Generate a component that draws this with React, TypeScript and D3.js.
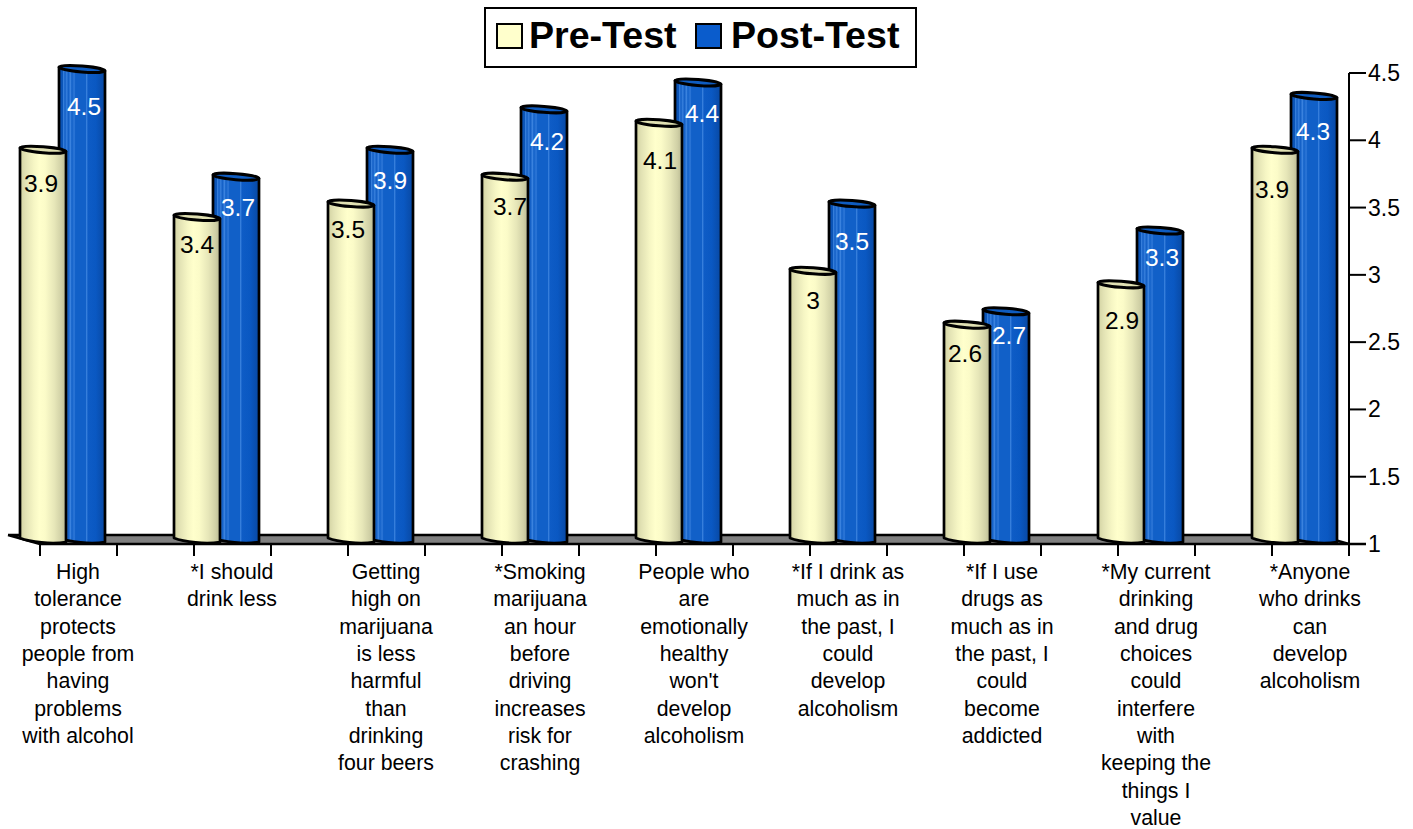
import React from "react";
import * as d3 from "d3";

const categories = [
  ["High", "tolerance", "protects", "people from", "having", "problems", "with alcohol"],
  ["*I should", "drink less"],
  ["Getting", "high on", "marijuana", "is less", "harmful", "than", "drinking", "four beers"],
  ["*Smoking", "marijuana", "an hour", "before", "driving", "increases", "risk for", "crashing"],
  ["People who", "are", "emotionally", "healthy", "won't", "develop", "alcoholism"],
  ["*If I drink as", "much as in", "the past, I", "could", "develop", "alcoholism"],
  ["*If I use", "drugs as", "much as in", "the past, I", "could", "become", "addicted"],
  ["*My current", "drinking", "and drug", "choices", "could", "interfere", "with", "keeping the", "things I", "value"],
  ["*Anyone", "who drinks", "can", "develop", "alcoholism"],
];
const preTest = [3.9, 3.4, 3.5, 3.7, 4.1, 3, 2.6, 2.9, 3.9];
const postTest = [4.5, 3.7, 3.9, 4.2, 4.4, 3.5, 2.7, 3.3, 4.3];
const yTicks = [1, 1.5, 2, 2.5, 3, 3.5, 4, 4.5];

// Hand-placed value label nudges, relative to each category centre and value level.
const preLabelDx = [-37, -35, -38, -30, -34, -35, -37, -34, -38];
const preLabelDy = [38, 32, 30, 34, 42, 34, 33, 41, 44];
const postLabelDx = [6, 6, 4, 7, 8, 4, 7, 6, 3];
const postLabelDy = [42, 35, 35, 37, 36, 42, 29, 32, 40];

// Colour stops across the width of a cylinder: [offset, colour].
const preStops: [number, string][] = [
  [0, "#d2d2a2"], [0.12, "#e2e2b4"], [0.3, "#f6f6c4"], [0.42, "#ffffcc"], [0.55, "#fbfbc8"],
  [0.75, "#e6e6b8"], [0.9, "#d0d0a6"], [1, "#b8b892"],
];
const postStops: [number, string][] = [
  [0, "#0a4fae"], [0.08, "#0b55b8"], [0.1, "#3a82de"], [0.13, "#0f5cc4"], [0.17, "#3a82de"], [0.2, "#0f5cc4"],
  [0.25, "#3a82de"], [0.28, "#1160c8"], [0.33, "#2f78d8"], [0.36, "#1160c8"], [0.58, "#1160c8"], [0.6, "#3a82de"],
  [0.63, "#0e5cc6"], [0.8, "#0a58c2"], [1, "#0848a2"],
];

const FONT = "Liberation Sans, Arial, sans-serif";
const y = d3.scaleLinear().domain([1, 4.5]).range([544, 73]);
const x = d3.scaleBand<number>().domain(d3.range(categories.length)).range([1, 1387]).padding(0);
const tickXs = d3.range(0, 18).map((i) => 40 + i * 77);

function Cylinder({ cx, value, fill, rim }: { cx: number; value: number; fill: string; rim: string }) {
  const w = 46;
  const left = cx - w / 2;
  const right = cx + w / 2;
  const top = y(value) - 4;
  const tilt = 1.9;
  const path = d3.path();
  path.moveTo(left, top - tilt);
  path.lineTo(left, 538);
  path.bezierCurveTo(left + 10, 542, right - 14, 544.5, right, 542);
  path.lineTo(right, top + tilt);
  path.closePath();
  return (
    <g>
      <path d={path.toString()} fill={fill} stroke="#000" strokeWidth={2.7} strokeLinejoin="round" />
      <ellipse
        cx={cx}
        cy={top}
        rx={w / 2}
        ry={3}
        transform={`rotate(4.5 ${cx} ${top})`}
        fill={rim}
        stroke="#000"
        strokeWidth={3}
      />
    </g>
  );
}

export default function App() {
  const centers = categories.map((_, i) => (x(i) as number) + x.bandwidth() / 2);
  return (
    <svg
      width={1413}
      height={829}
      style={{ position: "absolute", left: 0, top: 0, background: "#fff", fontFamily: FONT }}
    >
      <defs>
        <linearGradient id="preFill" x1="0" x2="1" y1="0" y2="0">
          {preStops.map(([o, c]) => <stop key={o} offset={o} stopColor={c} />)}
        </linearGradient>
        <linearGradient id="postFill" x1="0" x2="1" y1="0" y2="0">
          {postStops.map(([o, c]) => <stop key={o} offset={o} stopColor={c} />)}
        </linearGradient>
      </defs>

      {/* legend */}
      <rect x={485} y={8} width={431} height={59} fill="#fff" stroke="#000" strokeWidth={2} />
      <rect x={497} y={24} width={25} height={24} fill="#ffffcc" stroke="#000" strokeWidth={2} />
      <text x={529} y={48} fontSize={37.6} fontWeight="bold">Pre-Test</text>
      <rect x={696} y={24} width={25} height={24} fill="#0a5ccc" stroke="#000" strokeWidth={2} />
      <text x={731} y={48} fontSize={37.6} fontWeight="bold">Post-Test</text>

      {/* floor of the plot */}
      <path d="M8,535 L1317,535 L1349,544 L40,544 Z" fill="#808080" />
      <path d="M8,535 L1317,535 L1349,544 M8,535 L40,544" stroke="#000" strokeWidth={2.4} fill="none" />

      {/* right-hand value axis */}
      <line x1={1349} x2={1349} y1={y(4.5)} y2={y(1)} stroke="#000" strokeWidth={2} />
      {yTicks.map((t) => (
        <g key={t}>
          <line x1={1349} x2={1366} y1={y(t)} y2={y(t)} stroke="#000" strokeWidth={2} />
          <text x={1368} y={y(t) + 8} fontSize={23}>{t}</text>
        </g>
      ))}

      {/* cylinders: post-test sits behind the pre-test column of its group */}
      {categories.map((_, i) => (
        <g key={i}>
          <Cylinder cx={centers[i] + 4} value={postTest[i]} fill="url(#postFill)" rim="#0f5cc0" />
          <Cylinder cx={centers[i] - 35} value={preTest[i]} fill="url(#preFill)" rim="#e0e0b2" />
        </g>
      ))}

      {/* category axis */}
      <line x1={40} x2={1366} y1={544} y2={544} stroke="#000" strokeWidth={2.5} />
      {tickXs.map((t) => (
        <line key={t} x1={t} x2={t} y1={544} y2={556} stroke="#000" strokeWidth={2} />
      ))}

      {/* value labels */}
      {categories.map((_, i) => (
        <g key={i} fontSize={24.5} textAnchor="middle">
          <text x={centers[i] + preLabelDx[i]} y={y(preTest[i]) + preLabelDy[i]} fill="#000">
            {preTest[i]}
          </text>
          <text x={centers[i] + postLabelDx[i]} y={y(postTest[i]) + postLabelDy[i]} fill="#fff">
            {postTest[i]}
          </text>
        </g>
      ))}

      {/* category labels */}
      {categories.map((lines, i) => (
        <text key={i} fontSize={21.3} textAnchor="middle" fill="#000">
          {lines.map((l, j) => (
            <tspan key={j} x={centers[i]} y={579 + j * 27.33}>{l}</tspan>
          ))}
        </text>
      ))}
    </svg>
  );
}
